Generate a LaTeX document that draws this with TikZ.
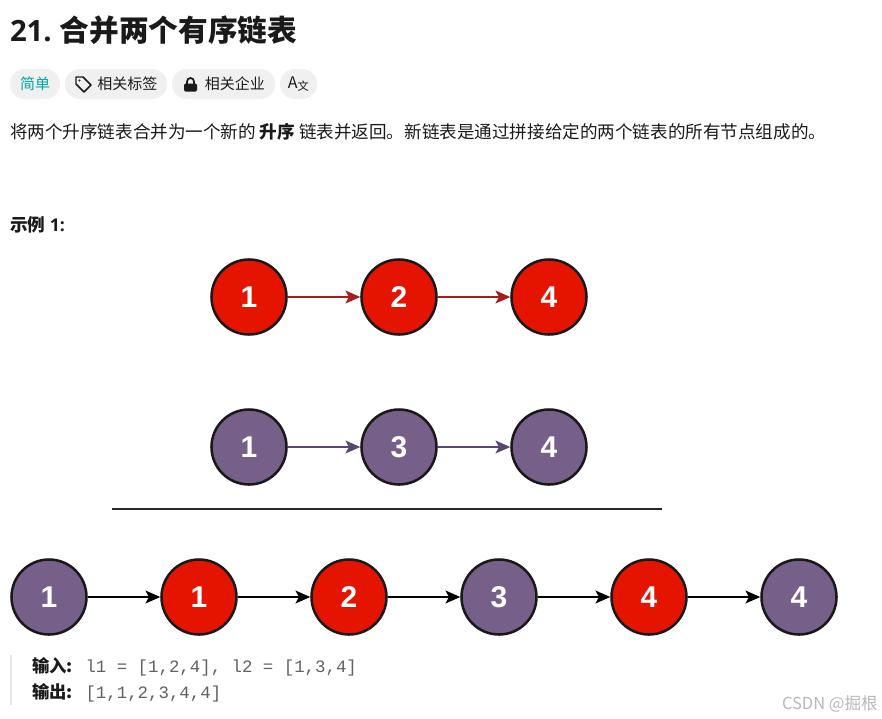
\documentclass[tikz,border=0pt]{standalone}
\usepackage{fontspec}
\setmainfont{Open Sans}
\setmonofont{Liberation Mono}
\newfontfamily\cjk{Noto Sans CJK SC}
\usepackage{xcolor}
\usetikzlibrary{positioning,arrows.meta}
\definecolor{listred}{HTML}{E51400}
\definecolor{listpurple}{HTML}{76608A}
\definecolor{arrowred}{HTML}{A81C1C}
\definecolor{arrowpurple}{HTML}{5A4672}
\definecolor{tagbg}{HTML}{F0F0F0}
\definecolor{inktext}{HTML}{1A1A1A}
\newcommand{\listfont}{\fontspec{Liberation Sans}\bfseries\fontsize{22.5pt}{22.5pt}\selectfont}

\begin{document}
\begin{tikzpicture}[
  x=0.75pt, y=-0.75pt, node distance=56.25pt,
  txt/.style={anchor=base west, inner sep=0pt, outer sep=0pt, text=inktext},
  tagbox/.style={fill=tagbg, rounded corners=11pt, minimum height=22.5pt, inner sep=0pt, outer sep=0pt, font=\cjk\fontsize{11.25pt}{11.25pt}\selectfont, text=inktext},
  lnode/.style={circle, draw=black!90, line width=1.9pt, minimum size=56.25pt, inner sep=0pt, outer sep=0pt, text=white, font=\listfont},
  rednode/.style={lnode, fill=listred},
  purplenode/.style={lnode, fill=listpurple},
  arr/.style={-{Stealth[length=11pt, width=9.5pt, inset=2.5pt]}, line width=1.9pt, shorten <=0.9pt, shorten >=0.9pt}
]
\useasboundingbox (0,0) rectangle (882,718);
% page header
\node[txt, font=\bfseries\fontsize{22pt}{22pt}\selectfont] (title) at (10,41) {21.\hspace{6pt}{\cjk\bfseries\fontsize{22.25pt}{22.25pt}\selectfont 合并两个有序链表}};
\node[tagbox, minimum width=37.5pt, text=teal!70!cyan] (easy) at (35,84) {\raisebox{-0.8pt}{简单}};
\node[tagbox, minimum width=76.5pt] (tags) at (116,84) {\hspace{17pt}\raisebox{-0.8pt}{相关标签}};
\node[tagbox, minimum width=77.25pt] (firms) at (223.5,84) {\hspace{17pt}\raisebox{-0.8pt}{相关企业}};
\node[tagbox, minimum width=27.75pt] (lang) at (298.5,84) {\fontsize{12pt}{12pt}\selectfont A\raisebox{-1pt}{\fontsize{8.5pt}{8.5pt}\selectfont 文}};
% tag and lock icons
\draw[inktext, line width=1.1pt, line join=round] (76,77) -- (83,77) -- (91,85) -- (84,92) -- (76,84) -- cycle;
\fill[inktext] (79.5,80.5) circle (1.2);
\fill[inktext, rounded corners=1pt] (184,83.5) rectangle (197,91.5);
\draw[inktext, line width=1.3pt] (187,84) -- (187,81.5) arc (180:360:3.5) -- (194,84);
\node[txt, font=\cjk\fontsize{13.18pt}{13.18pt}\selectfont] (desc) at (10,138.5) {将两个升序链表合并为一个新的 {\bfseries 升序} 链表并返回。新链表是通过拼接给定的两个链表的所有节点组成的。};
\node[txt, font=\bfseries\fontsize{13.2pt}{13.2pt}\selectfont] (example) at (10,231) {{\cjk 示例} 1:};
% first list
\node[rednode] (a1) at (249,297) {1};
\node[rednode, right=of a1] (a2) {2};
\node[rednode, right=of a2] (a3) {4};
\draw[arr, arrowred] (a1) -- (a2);
\draw[arr, arrowred] (a2) -- (a3);
% second list
\node[purplenode] (b1) at (249,447) {1};
\node[purplenode, right=of b1] (b2) {3};
\node[purplenode, right=of b2] (b3) {4};
\draw[arr, arrowpurple] (b1) -- (b2);
\draw[arr, arrowpurple] (b2) -- (b3);
% separator
\coordinate (sepl) at (112,509);
\coordinate (sepr) at (662,509);
\draw[line width=2.2pt, black!85] (sepl) -- (sepr);
% merged list
\node[purplenode] (c1) at (49,597) {1};
\node[rednode, right=of c1] (c2) {1};
\node[rednode, right=of c2] (c3) {2};
\node[purplenode, right=of c3] (c4) {3};
\node[rednode, right=of c4] (c5) {4};
\node[purplenode, right=of c5] (c6) {4};
\draw[arr] (c1) -- (c2);
\draw[arr] (c2) -- (c3);
\draw[arr] (c3) -- (c4);
\draw[arr] (c4) -- (c5);
\draw[arr] (c5) -- (c6);
% input and output
\coordinate (bart) at (11,655);
\coordinate (barb) at (11,705);
\draw[line width=1.5pt, black!10] (bart) -- (barb);
\node[txt, font=\cjk\bfseries\fontsize{13pt}{13pt}\selectfont] (inlab) at (32,672) {输入:};
\node[txt, font=\ttfamily\fontsize{13.05pt}{13.05pt}\selectfont, text=black!62] (inval) at (85.5,672) {l1 = [1,2,4], l2 = [1,3,4]};
\node[txt, font=\cjk\bfseries\fontsize{13pt}{13pt}\selectfont] (outlab) at (32,698) {输出:};
\node[txt, font=\ttfamily\fontsize{13.05pt}{13.05pt}\selectfont, text=black!62] (outval) at (85.5,698) {[1,1,2,3,4,4]};
\node[txt, font=\cjk\fontsize{12.4pt}{12.4pt}\selectfont, text=black!28] (mark) at (782,709) {CSDN @掘根};
\end{tikzpicture}
\end{document}
